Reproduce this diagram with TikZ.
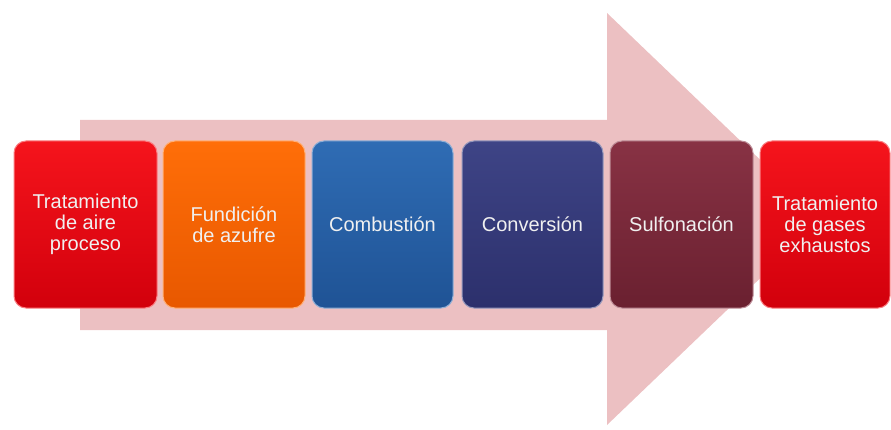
\documentclass[tikz,border=0pt]{standalone}
\usepackage{fontspec}
\setmainfont{Liberation Sans}
\definecolor{arrowpink}{HTML}{ECC0C2}
\definecolor{redT}{HTML}{F5141C}\definecolor{redB}{HTML}{D2000C}
\definecolor{orT}{HTML}{FF6E08}\definecolor{orB}{HTML}{E85800}
\definecolor{blT}{HTML}{2F6CB4}\definecolor{blB}{HTML}{1F5395}
\definecolor{nvT}{HTML}{3E4486}\definecolor{nvB}{HTML}{2C306C}
\definecolor{mrT}{HTML}{883244}\definecolor{mrB}{HTML}{6A2030}
\tikzset{
  stage/.style n args={2}{rectangle, rounded corners=12pt, minimum height=167pt,
    top color=#1, bottom color=#2, draw=#1!55!white, line width=1pt,
    text=white!94!black, align=center, inner sep=2pt,
    font=\fontsize{20}{21}\selectfont},
  bigarrow/.style={fill=arrowpink, draw=none}
}
\begin{document}
\begin{tikzpicture}[x=1pt,y=-1pt]
\useasboundingbox (0,0) rectangle (891,430);
\fill[bigarrow] (80,120) -- (607,120) -- (607,13) -- (822,219) -- (607,425) -- (607,330) -- (80,330) -- cycle;
\node[stage={redT}{redB}, minimum width=143pt] (s1) at (85.5,224.5) {Tratamiento\\de aire\\proceso};
\node[stage={orT}{orB}, minimum width=142pt] (s2) at (234,224.5) {Fundición\\de azufre};
\node[stage={blT}{blB}, minimum width=141pt] (s3) at (382.5,224.5) {Combustión};
\node[stage={nvT}{nvB}, minimum width=141pt] (s4) at (532.5,224.5) {Conversión};
\node[stage={mrT}{mrB}, minimum width=143pt] (s5) at (681.5,224.5) {Sulfonación};
\node[stage={redT}{redB}, minimum width=130pt] (s6) at (825,224.5) {Tratamiento\\de gases\\exhaustos};
\end{tikzpicture}
\end{document}
